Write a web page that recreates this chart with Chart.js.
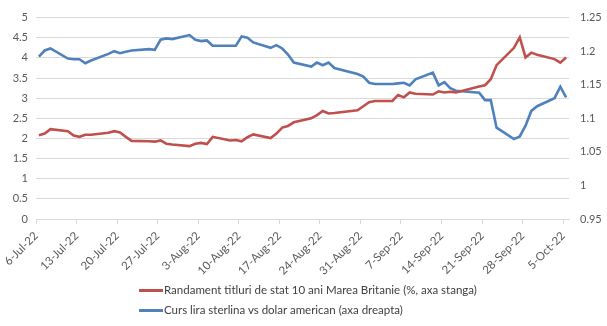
<!DOCTYPE html>
<html>
<head>
<meta charset="utf-8">
<script src="https://cdn.jsdelivr.net/npm/chart.js@4.4.1/dist/chart.umd.min.js"></script>
<style>
  html, body { margin: 0; padding: 0; background: #ffffff; }
  #wrap { position: relative; width: 607px; height: 326px; overflow: hidden; }
  #c { position: absolute; left: 0; top: 0; }
  .leg { position: absolute; left: 139px; height: 20px; font-family: Lato, "Open Sans", sans-serif; font-size: 11.5px; color: #404040; white-space: nowrap; line-height: 20px; }
  .leg .sw { display: inline-block; width: 24px; height: 3px; vertical-align: middle; margin-right: 1px; position: relative; top: -1px; }
</style>
</head>
<body>
<div id="wrap">
  <canvas id="c" width="607" height="326"></canvas>
  <div class="leg" id="leg1" style="top:280px;"><span class="sw" style="background:#C0504D"></span><span id="t1"></span></div>
  <div class="leg" id="leg2" style="top:300px;"><span class="sw" style="background:#4F81BD"></span><span id="t2"></span></div>
</div>
<script>
// ---- data ----
const seriesNames = [
  "Randament titluri de stat 10 ani Marea Britanie (%, axa stanga)",
  "Curs lira sterlina vs dolar american (axa dreapta)"
];
const tickLabels = ["6-Jul-22","13-Jul-22","20-Jul-22","27-Jul-22","3-Aug-22","10-Aug-22","17-Aug-22","24-Aug-22","31-Aug-22","7-Sep-22","14-Sep-22","21-Sep-22","28-Sep-22","5-Oct-22"];
const dates = [
  "2022-07-06","2022-07-07","2022-07-08","2022-07-11","2022-07-12","2022-07-13","2022-07-14","2022-07-15",
  "2022-07-18","2022-07-19","2022-07-20","2022-07-21","2022-07-22","2022-07-25","2022-07-26","2022-07-27",
  "2022-07-28","2022-07-29","2022-08-01","2022-08-02","2022-08-03","2022-08-04","2022-08-05","2022-08-08",
  "2022-08-09","2022-08-10","2022-08-11","2022-08-12","2022-08-15","2022-08-16","2022-08-17","2022-08-18",
  "2022-08-19","2022-08-22","2022-08-23","2022-08-24","2022-08-25","2022-08-26","2022-08-30","2022-08-31",
  "2022-09-01","2022-09-02","2022-09-05","2022-09-06","2022-09-07","2022-09-08","2022-09-09","2022-09-12",
  "2022-09-13","2022-09-14","2022-09-15","2022-09-16","2022-09-20","2022-09-21","2022-09-22","2022-09-23",
  "2022-09-26","2022-09-27","2022-09-28","2022-09-29","2022-09-30","2022-10-03","2022-10-04","2022-10-05"
];
const giltYield = [
  2.08,2.12,2.23,2.18,2.07,2.04,2.09,2.09,
  2.14,2.18,2.15,2.04,1.94,1.93,1.92,1.95,
  1.87,1.85,1.81,1.87,1.89,1.86,2.04,1.95,
  1.96,1.93,2.03,2.10,2.01,2.12,2.27,2.31,
  2.40,2.50,2.58,2.68,2.62,2.63,2.70,2.80,
  2.90,2.93,2.93,3.08,3.02,3.14,3.11,3.09,
  3.17,3.14,3.16,3.14,3.29,3.32,3.47,3.82,
  4.25,4.51,4.01,4.13,4.08,3.97,3.88,4.01
];
const gbpUsd = [
  1.192,1.201,1.204,1.189,1.188,1.188,1.182,1.186,
  1.196,1.200,1.197,1.199,1.201,1.203,1.202,1.217,
  1.219,1.218,1.224,1.217,1.215,1.216,1.208,1.208,
  1.208,1.222,1.220,1.213,1.205,1.209,1.204,1.195,
  1.183,1.177,1.183,1.179,1.183,1.175,1.166,1.162,
  1.153,1.151,1.151,1.152,1.153,1.149,1.158,1.168,
  1.149,1.154,1.145,1.141,1.138,1.127,1.127,1.086,
  1.069,1.073,1.089,1.111,1.118,1.130,1.147,1.131
];

// ---- build ----
const startDate = Date.UTC(2022, 6, 6);
function dayIndex(s) {
  const p = s.split("-").map(Number);
  return (Date.UTC(p[0], p[1] - 1, p[2]) - startDate) / 86400000 + 0.5;
}
const xs = dates.map(dayIndex);
const redPts = xs.map((x, i) => ({ x: x, y: giltYield[i] }));
const bluePts = xs.map((x, i) => ({ x: x, y: gbpUsd[i] }));

document.getElementById("t1").textContent = seriesNames[0];
document.getElementById("t2").textContent = seriesNames[1];

Chart.defaults.font.family = 'Lato, "Open Sans", sans-serif';
Chart.defaults.font.size = 11;
Chart.defaults.color = "#595959";

new Chart(document.getElementById("c"), {
  type: "line",
  data: {
    datasets: [
      { label: seriesNames[0], data: redPts, yAxisID: "yL", borderColor: "#C0504D", backgroundColor: "#C0504D", borderWidth: 2.6, pointRadius: 0, tension: 0, fill: false },
      { label: seriesNames[1], data: bluePts, yAxisID: "yR", borderColor: "#4F81BD", backgroundColor: "#4F81BD", borderWidth: 2.6, pointRadius: 0, tension: 0, fill: false }
    ]
  },
  options: {
    responsive: false,
    animation: false,
    layout: { padding: { top: 12, left: 0, right: 0, bottom: 0 } },
    plugins: { legend: { display: false }, tooltip: { enabled: false } },
    scales: {
      x: {
        type: "linear", min: 0, max: 92,
        afterBuildTicks: (s) => { s.ticks = tickLabels.map((_, i) => ({ value: i * 7 })); },
        afterFit: (s) => { s.height = 107; },
        ticks: { autoSkip: false, minRotation: 45, maxRotation: 45, padding: 5,
                 font: { size: 11.5 },
                 callback: (v) => tickLabels[Math.round(v / 7)] },
        grid: { display: true, drawOnChartArea: false, drawTicks: true, tickLength: 5, color: "#d9d9d9" },
        border: { display: true, color: "#d9d9d9" }
      },
      yL: {
        position: "left", min: 0, max: 5,
        afterFit: (s) => { s.width = 36; },
        ticks: { stepSize: 0.5, padding: 8, callback: (v) => String(Math.round(v * 10) / 10) },
        grid: { color: "#d9d9d9", drawTicks: false },
        border: { display: false }
      },
      yR: {
        position: "right", min: 0.95, max: 1.25,
        afterFit: (s) => { s.width = 38; },
        ticks: { stepSize: 0.05, padding: 11, callback: (v) => String(Math.round(v * 100) / 100) },
        grid: { display: false, drawTicks: false },
        border: { display: false }
      }
    }
  }
});
</script>
</body>
</html>
